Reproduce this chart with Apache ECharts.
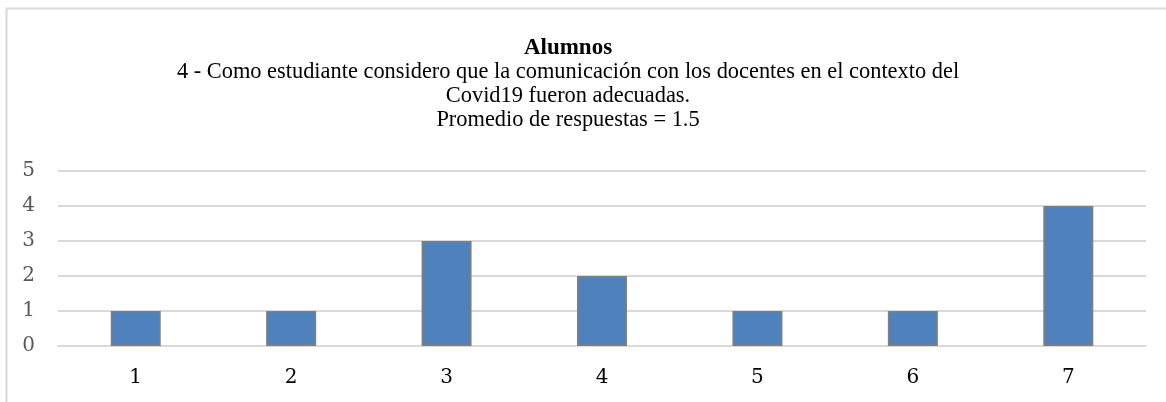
<!DOCTYPE html>
<html>
<head>
<meta charset="utf-8">
<script src="https://cdn.jsdelivr.net/npm/echarts@6/dist/echarts.min.js"></script>
<style>
  html, body { margin: 0; padding: 0; background: #fff; }
  #chart { width: 1166px; height: 402px; }
</style>
</head>
<body>
<div id="chart"></div>
<script>
// datos
const categorias = ['1', '2', '3', '4', '5', '6', '7'];
const respuestas = [1, 1, 3, 2, 1, 1, 4];
const yTicks = [0, 1, 2, 3, 4, 5];

const titulo = 'Alumnos';
const subtitulo = '4 - Como estudiante considero que la comunicación con los docentes en el contexto del\nCovid19 fueron adecuadas.\nPromedio de respuestas = 1.5';

var myChart = echarts.init(document.getElementById('chart'));

const option = {
  animation: false,
  graphic: [
    {
      type: 'polyline',
      shape: { points: [[6.5, 402], [6.5, 8.5], [1166, 8.5]] },
      style: { stroke: '#d9d9d9', lineWidth: 2, fill: null },
      silent: true
    }
  ],
  title: {
    left: 563,
    top: 31,
    textAlign: 'center',
    text: titulo,
    subtext: subtitulo,
    itemGap: 0,
    textStyle: {
      fontFamily: 'Liberation Serif',
      fontSize: 23,
      fontWeight: 'bold',
      lineHeight: 24,
      color: '#000'
    },
    subtextStyle: {
      fontFamily: 'Liberation Serif',
      fontSize: 22.4,
      lineHeight: 24,
      color: '#000'
    }
  },
  grid: {
    left: 58,
    right: 20,
    top: 171,
    bottom: 56
  },
  xAxis: {
    type: 'category',
    data: categorias,
    axisLine: { show: true, lineStyle: { color: '#d9d9d9', width: 2 } },
    axisTick: { show: false },
    axisLabel: {
      margin: 22,
      fontFamily: 'DejaVu Serif',
      fontSize: 20,
      color: '#000'
    }
  },
  yAxis: {
    type: 'value',
    min: yTicks[0],
    max: yTicks[yTicks.length - 1],
    interval: 1,
    axisLine: { show: false },
    axisTick: { show: false },
    splitLine: { lineStyle: { color: '#d9d9d9', width: 2 } },
    axisLabel: {
      margin: 23,
      fontFamily: 'DejaVu Serif',
      fontSize: 20,
      color: '#595959'
    }
  },
  series: [
    {
      type: 'bar',
      data: respuestas,
      barWidth: 50,
      itemStyle: {
        color: '#4f81bd',
        borderColor: '#7f7f7f',
        borderWidth: 1.5
      }
    }
  ]
};

myChart.setOption(option);
</script>
</body>
</html>
